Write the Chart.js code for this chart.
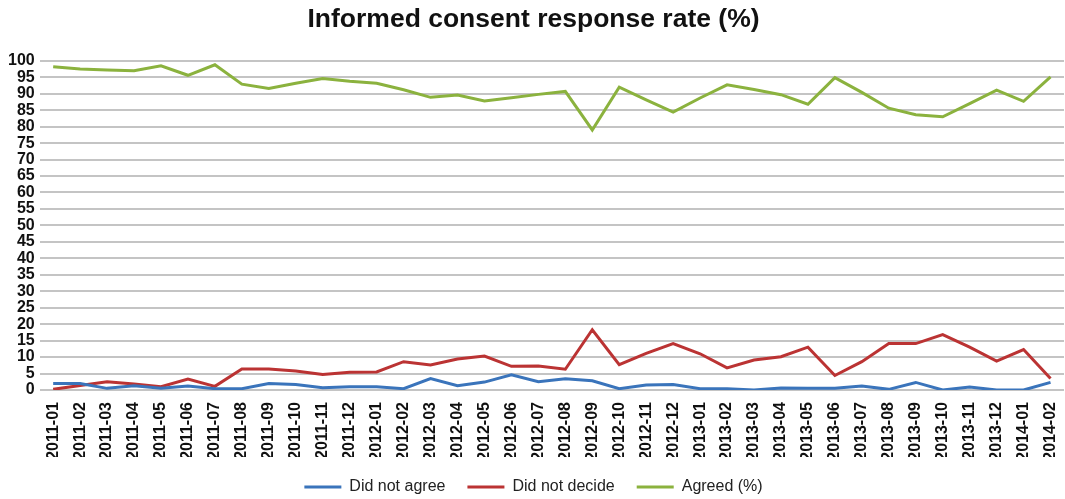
<!DOCTYPE html>
<html>
<head>
<meta charset="utf-8">
<script src="https://cdn.jsdelivr.net/npm/chart.js@4"></script>
<style>
  html, body { margin: 0; padding: 0; background: #fff; }
</style>
</head>
<body>
<canvas id="rates" width="1065" height="499"></canvas>
<script>
const months = ['2011-01','2011-02','2011-03','2011-04','2011-05','2011-06','2011-07','2011-08','2011-09','2011-10','2011-11','2011-12',
  '2012-01','2012-02','2012-03','2012-04','2012-05','2012-06','2012-07','2012-08','2012-09','2012-10','2012-11','2012-12',
  '2013-01','2013-02','2013-03','2013-04','2013-05','2013-06','2013-07','2013-08','2013-09','2013-10','2013-11','2013-12',
  '2014-01','2014-02'];

const didNotAgree = [2, 2, 0.5, 1.3, 0.5, 1.2, 0.4, 0.4, 2, 1.7, 0.7, 1,
  1, 0.4, 3.5, 1.3, 2.4, 4.6, 2.5, 3.4, 2.8, 0.4, 1.5, 1.7,
  0.4, 0.4, 0, 0.6, 0.5, 0.5, 1.2, 0.2, 2.3, 0, 0.9, 0,
  0, 2.3];

const didNotDecide = [0.2, 1.4, 2.5, 1.8, 1, 3.3, 1.1, 6.4, 6.4, 5.8, 4.7, 5.4,
  5.5, 8.6, 7.6, 9.4, 10.3, 7.2, 7.3, 6.3, 18.3, 7.7, 11.1, 14.1,
  11, 6.7, 9.1, 10.1, 13, 4.4, 8.6, 14.1, 14.1, 16.8, 13, 8.8,
  12.3, 3.5];

const agreed = [98.2, 97.5, 97.2, 97, 98.5, 95.6, 98.8, 92.9, 91.6, 93.2, 94.6, 93.8,
  93.2, 91.2, 88.9, 89.6, 87.8, 88.8, 89.8, 90.7, 79, 92, 88.1, 84.4,
  88.7, 92.7, 91.3, 89.7, 86.8, 94.9, 90.4, 85.6, 83.6, 83, 87, 91.1,
  87.7, 95.1];

const font = '"Liberation Sans", Arial, Helvetica, sans-serif';

function series(label, values, color) {
  return {
    label: label,
    data: values,
    borderColor: color,
    backgroundColor: color,
    borderWidth: 3,
    pointRadius: 0,
    tension: 0,
    pointStyle: 'line'
  };
}

new Chart(document.getElementById('rates'), {
  type: 'line',
  data: {
    labels: months,
    datasets: [
      series('Did not agree', didNotAgree, '#3a74bb'),
      series('Did not decide', didNotDecide, '#bb3333'),
      series('Agreed (%)', agreed, '#8bb23e')
    ]
  },
  options: {
    responsive: false,
    animation: false,
    layout: { padding: { left: 3, right: 1, top: 0, bottom: -6 } },
    plugins: {
      title: {
        display: true,
        text: 'Informed consent response rate (%)',
        color: '#111',
        font: { family: font, size: 26.5, weight: 'bold' },
        padding: { top: 4, bottom: 25 }
      },
      legend: {
        position: 'bottom',
        labels: {
          usePointStyle: true,
          pointStyleWidth: 37,
          padding: 22,
          color: '#222',
          font: { family: font, size: 16 }
        }
      },
      tooltip: { enabled: false }
    },
    scales: {
      x: {
        offset: true,
        grid: { display: false, drawTicks: false },
        border: { display: false },
        // fixed axis height, and let the plot run to the right edge
        afterFit: (scale) => {
          scale.height = 67;
          scale.paddingLeft = 0;
          scale.paddingRight = 0;
        },
        ticks: {
          autoSkip: false,
          maxRotation: 90,
          minRotation: 90,
          padding: 12,
          color: '#111',
          font: { family: font, size: 16, weight: 'bold' }
        }
      },
      y: {
        min: 0,
        max: 100,
        grid: { color: '#c4c4c4', lineWidth: 2, drawTicks: false },
        border: { display: false },
        ticks: {
          autoSkip: false,
          stepSize: 5,
          padding: 5,
          color: '#111',
          font: { family: font, size: 16, weight: 'bold' }
        }
      }
    }
  }
});
</script>
</body>
</html>
